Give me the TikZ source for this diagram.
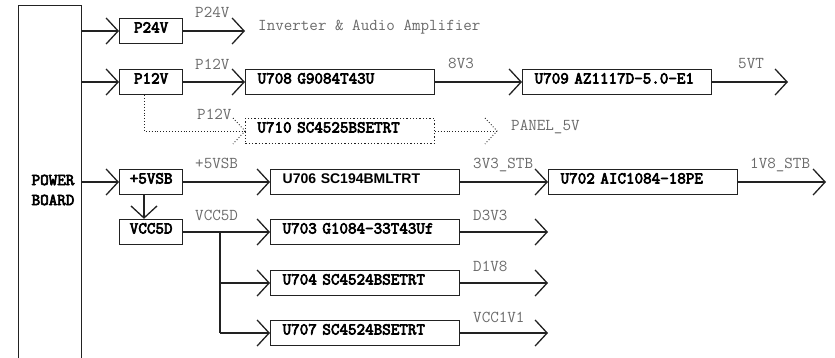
\documentclass[tikz,border=0pt]{standalone}
\usepackage{fontspec}
\newfontfamily\sansf{Liberation Sans}
\newfontfamily\monob{Latin Modern Mono}[FakeBold=4]
\newcommand{\monof}{\ttfamily}
\usetikzlibrary{arrows.meta,calc}
\definecolor{lblgray}{HTML}{6A6A6A}
\definecolor{edge}{HTML}{222222}
\begin{document}
\begin{tikzpicture}[x=1pt,y=-1pt,
  every node/.style={font=\monof\fontsize{16.6}{20}\selectfont},
  blk/.style={draw=edge, line width=1.3pt, font=\monob\fontsize{16.6}{20}\selectfont,
    minimum height=25pt, inner ysep=0pt, text height=10.5pt, text depth=7.5pt, anchor=west},
  smallbox/.style={blk, minimum width=63pt, inner xsep=0pt, align=center},
  widebox/.style={blk, text width=165pt, inner xsep=12pt, align=left},
  dotbox/.style={widebox, dotted, line width=0.9pt},
  lbl/.style={text=lblgray, anchor=base west, inner sep=0pt},
  wire/.style={draw=edge, line width=1.3pt, -{Straight Barb[length=12pt,width=26pt]}},
  plain/.style={draw=edge, line width=1.3pt},
  dwire/.style={draw=edge, dotted, line width=0.9pt}]
\useasboundingbox (0,0) rectangle (835,358);

% power board
\node[draw=edge, line width=1.3pt, minimum width=63pt, minimum height=420pt, inner sep=0pt, anchor=north west] (pb) at (18,5) {};
\node[font=\monob\fontsize{16.6}{20}\selectfont, align=center] (pbt) at (53,190) {POWER\\BOARD};

% boxes
\node[smallbox] (p24) at (119,31) {P24V};
\node[smallbox] (p12) at (119,82) {P12V};
\node[widebox] (u708) at (245,82) {U708 G9084T43U};
\node[widebox] (u709) at (522,82) {U709 AZ1117D-5.0-E1};
\node[dotbox] (u710) at (245,131) {U710 SC4525BSETRT};
\node[smallbox] (vsb) at (119,182) {+5VSB};
\node[widebox, font=\sansf\bfseries\fontsize{14}{20}\selectfont] (u706) at (270,182) {U706 SC194BMLTRT};
\node[widebox] (u702) at (548,182) {U702 AIC1084-18PE};
\node[smallbox] (vcc) at (119,232) {VCC5D};
\node[widebox] (u703) at (270,232) {U703 G1084-33T43Uf};
\node[widebox] (u704) at (270,283) {U704 SC4524BSETRT};
\node[widebox] (u707) at (270,333) {U707 SC4524BSETRT};

% free ends
\coordinate (p24o) at (245,31);
\coordinate (u709o) at (788,82);
\coordinate (u710o) at (497,131);
\coordinate (u702o) at (826,182);
\coordinate (u703o) at (548,232);
\coordinate (u704o) at (548,283);
\coordinate (u707o) at (548,333);
\coordinate (br) at (220,232);

% inputs from power board
\draw[wire] (pb.east |- p24.west) -- (p24.west);
\draw[wire] (pb.east |- p12.west) -- (p12.west);
\draw[wire] (pb.east |- vsb.west) -- (vsb.west);

% connectors
\draw[wire] (p24.east) -- (p24o);
\draw[wire] (p12.east) -- (u708.west);
\draw[wire] (u708.east) -- (u709.west);
\draw[wire] (u709.east) -- (u709o);
\draw[wire] (vsb.east) -- (u706.west);
\draw[wire] (u706.east) -- (u702.west);
\draw[wire] (u702.east) -- (u702o);
\draw[wire] ([xshift=25pt]vsb.south west) -- ([xshift=25pt]vcc.north west);
\draw[wire] (vcc.east) -- (u703.west);
\draw[plain] (br) -- (br |- u707.west);
\draw[wire] (br |- u704.west) -- (u704.west);
\draw[wire] (br |- u707.west) -- (u707.west);
\draw[wire] (u703.east) -- (u703o);
\draw[wire] (u704.east) -- (u704o);
\draw[wire] (u707.east) -- (u707o);

% dotted path
\draw[dwire] ([xshift=25pt]p12.south west) |- (u710.west);
\draw[dwire] ([shift={(-12pt,13pt)}]u710.west) -- (u710.west) -- ([shift={(-12pt,-13pt)}]u710.west);
\draw[dwire] (u710.east) -- (u710o);
\draw[dwire] ([shift={(-12pt,13pt)}]u710o) -- (u710o) -- ([shift={(-12pt,-13pt)}]u710o);

% labels
\node[lbl] (l1) at (195,18) {P24V};
\node[lbl] (l2) at (258,31) {Inverter \& Audio Amplifier};
\node[lbl] (l3) at (195,70) {P12V};
\node[lbl] (l4) at (448,69) {8V3};
\node[lbl] (l5) at (738,69) {5VT};
\node[lbl] (l6) at (197,120) {P12V};
\node[lbl] (l7) at (511,131) {PANEL\_5V};
\node[lbl] (l8) at (195,169) {+5VSB};
\node[lbl] (l9) at (473,169) {3V3\_STB};
\node[lbl] (l10) at (750,169) {1V8\_STB};
\node[lbl] (l11) at (195,221) {VCC5D};
\node[lbl] (l12) at (473,221) {D3V3};
\node[lbl] (l13) at (473,271) {D1V8};
\node[lbl] (l14) at (473,322) {VCC1V1};
\end{tikzpicture}
\end{document}
